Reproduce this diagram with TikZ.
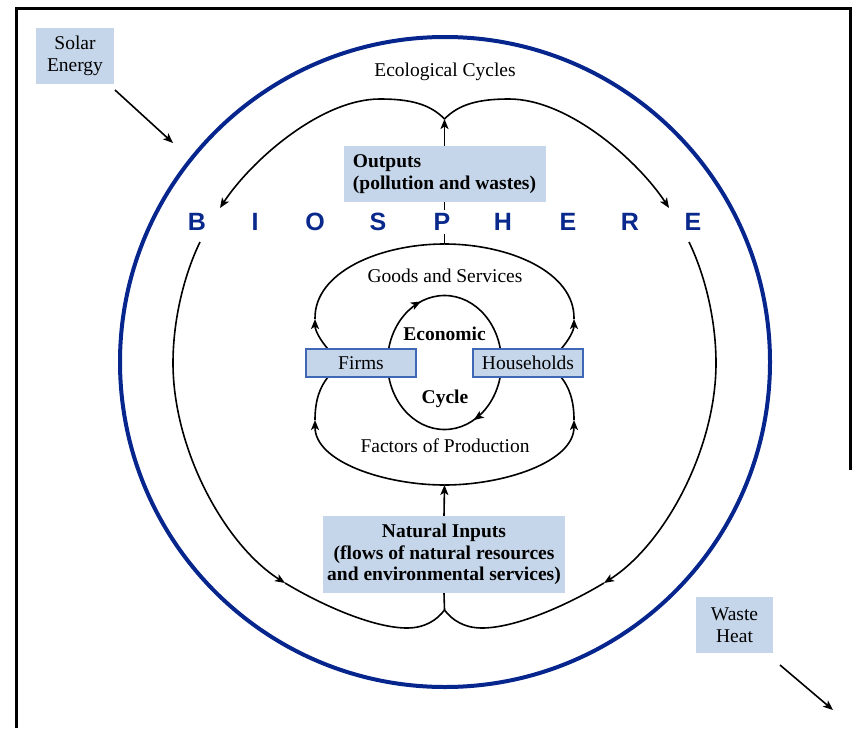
\documentclass[tikz,border=0pt]{standalone}
\usepackage{fontspec}
\setmainfont{Liberation Serif}
\newfontfamily\biofont{Liberation Sans}
\usetikzlibrary{arrows.meta,decorations.markings}

\definecolor{boxblue}{RGB}{198,214,234}
\definecolor{edgeblue}{RGB}{62,104,182}
\definecolor{bioblue}{RGB}{8,40,140}
\definecolor{ringblue}{RGB}{6,38,142}

\tikzset{
  flow/.style={draw=black,line width=1.6pt},
  tip/.style={-{Stealth[length=10pt,width=8pt,inset=2.5pt]}},
  txt/.style={font=\fontsize{19.5}{21.5}\selectfont,inner sep=0pt},
  boldtxt/.style={font=\fontsize{19.5}{21.5}\selectfont\bfseries,inner sep=0pt},
  panel/.style={fill=boxblue,font=\fontsize{19.5}{21.5}\selectfont,inner sep=0pt},
  agent/.style={draw=edgeblue,fill=boxblue,line width=1.2pt,
    minimum width=110pt,minimum height=28pt,inner sep=0pt,
    font=\fontsize{19.5}{21.5}\selectfont},
  letter/.style={font=\biofont\fontsize{25}{25}\selectfont\bfseries,
    text=bioblue,fill=white,inner sep=3pt},
  midtips/.style={postaction={decorate},decoration={markings,
    mark=at position 0.42 with {\arrow{Stealth[length=10pt,width=8pt,inset=2.5pt]}},
    mark=at position 0.937 with {\arrow{Stealth[length=10pt,width=8pt,inset=2.5pt]}}}}
}

\begin{document}
\begin{tikzpicture}[x=1pt,y=-1pt]
\useasboundingbox (0,0) rectangle (856,728);

% outer frame
\draw[line width=3.5pt,line join=miter] (16.5,728) -- (16.5,8.5) -- (850.5,8.5) -- (850.5,470);

% biosphere boundary
\draw[ringblue,line width=4pt] (445,362) circle[radius=325];

% key points of the ecological loop
\coordinate (topcusp) at (444.5,119);
\coordinate (botcusp) at (444.5,610);
\coordinate (lArrUp) at (220,208);
\coordinate (rArrUp) at (669,208);
\coordinate (lStart) at (200,242);
\coordinate (rStart) at (689,242);
\coordinate (lArrLo) at (285,583);
\coordinate (rArrLo) at (604,583);

% ecological cycle: upper lobes
\draw[flow,tip] (topcusp) .. controls (430,104) and (410,99) .. (380,99)
  .. controls (320,99) and (250,162) .. (lArrUp);
\draw[flow,tip] (topcusp) .. controls (459,104) and (479,99) .. (509,99)
  .. controls (569,99) and (639,162) .. (rArrUp);
% ecological cycle: lower sides
\draw[flow,tip] (lStart) .. controls (184,275) and (173,320) .. (173,363)
  .. controls (173,450) and (225,545) .. (lArrLo);
\draw[flow] (lArrLo) .. controls (325,607) and (375,628) .. (407,628)
  .. controls (425,628) and (437,620) .. (botcusp);
\draw[flow,tip] (rStart) .. controls (705,275) and (716,320) .. (716,363)
  .. controls (716,450) and (664,545) .. (rArrLo);
\draw[flow] (rArrLo) .. controls (564,607) and (514,628) .. (482,628)
  .. controls (464,628) and (452,620) .. (botcusp);

% economic loop points
\coordinate (innertop) at (444.5,244);
\coordinate (innerbot) at (444.5,485);
\coordinate (fTop) at (328,349);
\coordinate (fBot) at (328,377);
\coordinate (hTop) at (561,349);
\coordinate (hBot) at (561,377);
\coordinate (fArrUp) at (315,319);
\coordinate (fArrLo) at (315,420);
\coordinate (hArrUp) at (574,319);
\coordinate (hArrLo) at (574,420);

% goods and services
\draw[flow,tip] (fTop) .. controls (320,340) and (315,330) .. (fArrUp);
\draw[flow] (fArrUp) .. controls (314,272) and (380,244) .. (innertop);
\draw[flow,tip] (hTop) .. controls (569,340) and (574,330) .. (hArrUp);
\draw[flow] (hArrUp) .. controls (575,272) and (509,244) .. (innertop);
% factors of production
\draw[flow,tip] (innerbot) .. controls (385,485) and (315,462) .. (fArrLo);
\draw[flow] (fArrLo) .. controls (315,400) and (320,387) .. (fBot);
\draw[flow,tip] (innerbot) .. controls (504,485) and (574,462) .. (hArrLo);
\draw[flow] (hArrLo) .. controls (574,400) and (569,387) .. (hBot);

% economic cycle (clockwise from the top)
\draw[flow,midtips] (444.5,295.5) .. controls (476,295.5) and (501.5,325.5) .. (501.5,362.5)
  .. controls (501.5,399.5) and (476,429.5) .. (444.5,429.5)
  .. controls (413,429.5) and (387.5,399.5) .. (387.5,362.5)
  .. controls (387.5,325.5) and (413,295.5) .. (444.5,295.5);

% boxes
\node[panel,minimum width=202pt,minimum height=56pt,align=left]
  (out) at (444.5,174) {\bfseries Outputs\\\bfseries(pollution and wastes)};
\node[panel,minimum width=242pt,minimum height=77pt,align=center]
  (nat) at (444,554.5) {\bfseries Natural Inputs\\\bfseries(flows of natural resources\\\bfseries and environmental services)};
\node[panel,minimum width=78pt,minimum height=56pt,align=center]
  (solar) at (75,56) {Solar\\Energy};
\node[panel,minimum width=77pt,minimum height=56pt,align=center]
  (waste) at (734.5,625) {Waste\\Heat};
\node[agent] (firms) at (361,363) {Firms};
\node[agent] (house) at (528,363) {Households};

% flows between the economy and the biosphere
\draw[flow,tip] (out.north) -- (topcusp);
\draw[flow] (out.south) -- (innertop);
\draw[flow,tip] (nat.north) -- (innerbot);
\draw[flow] (nat.south) -- (botcusp);

% energy in and out
\coordinate (sunA) at (115,90);
\coordinate (sunB) at (173,143);
\coordinate (heatA) at (780,665);
\coordinate (heatB) at (833,710);
\draw[flow,tip] (sunA) -- (sunB);
\draw[flow,tip] (heatA) -- (heatB);

% spaced title of the sphere
\node[letter] (b1) at (197,222) {B};
\node[letter] (b2) at (255,222) {I};
\node[letter] (b3) at (315,222) {O};
\node[letter] (b4) at (378,222) {S};
\node[letter] (b5) at (442,222) {P};
\node[letter] (b6) at (503,222) {H};
\node[letter] (b7) at (568,222) {E};
\node[letter] (b8) at (630,222) {R};
\node[letter] (b9) at (693,222) {E};

% labels
\node[txt,anchor=base] (eco) at (445,76) {Ecological Cycles};
\node[txt,anchor=base] (goods) at (445,282) {Goods and Services};
\node[txt,anchor=base] (factors) at (445,452) {Factors of Production};
\node[boldtxt,anchor=base] (econ) at (444.5,340) {Economic};
\node[boldtxt,anchor=base] (cyc) at (445,403) {Cycle};
\end{tikzpicture}
\end{document}
